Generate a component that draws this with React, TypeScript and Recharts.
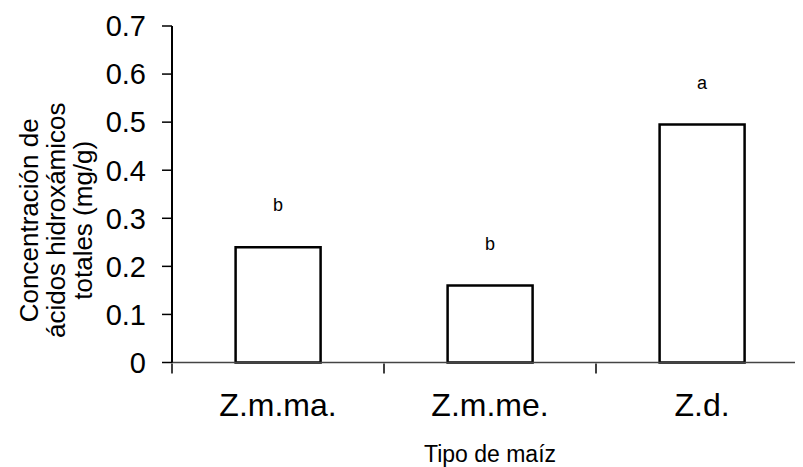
import React from 'react';
import { BarChart, Bar, XAxis, YAxis, LabelList } from 'recharts';

const categories = ['Z.m.ma.', 'Z.m.me.', 'Z.d.'];
const concentrations = [0.24, 0.16, 0.495];
const letters = ['b', 'b', 'a'];
const yTicks = [0, 0.1, 0.2, 0.3, 0.4, 0.5, 0.6, 0.7];
const categoryLimits = [0, 1, 2, 3];
const yTitleLines = ['Concentración de', 'ácidos hidroxámicos', 'totales (mg/g)'];
const xTitle = 'Tipo de maíz';

const data = categories.map((tipo, i) => ({
  tipo,
  valor: concentrations[i],
  letra: letters[i],
  limite: i,
}));

const FONT = '"Liberation Sans", Arial, sans-serif';

function YTitle(props: any) {
  const vb = props.viewBox || { x: 0, y: 0, height: 0 };
  const cy = vb.y + vb.height / 2 + 26;
  return (
    <g>
      {yTitleLines.map((line, i) => {
        const x = 30 + i * 27;
        return (
          <text
            key={line}
            x={x}
            y={cy}
            transform={`rotate(-90 ${x} ${cy})`}
            textAnchor="middle"
            fontFamily={FONT}
            fontSize={26}
            fill="#000"
          >
            {line}
          </text>
        );
      })}
    </g>
  );
}

function XTitle(props: any) {
  const vb = props.viewBox || { x: 0, y: 0, width: 0 };
  return (
    <text
      x={vb.x + vb.width / 2}
      y={vb.y + 99.5}
      textAnchor="middle"
      fontFamily={FONT}
      fontSize={23}
      fill="#000"
    >
      {xTitle}
    </text>
  );
}

export default function App() {
  return (
    <div style={{ width: 795, height: 459, overflow: 'hidden' }}>
      <BarChart
        width={800}
        height={459}
        data={data}
        margin={{ top: 18, right: 0, bottom: 44.5, left: 0 }}
        barCategoryGap="30%"
      >
        <XAxis
          xAxisId="limits"
          dataKey="limite"
          type="number"
          domain={[0, 3]}
          allowDataOverflow
          ticks={categoryLimits}
          interval={0}
          height={59}
          axisLine={false}
          tick={() => <g />}
          tickSize={10}
          tickLine={{ stroke: '#000', strokeWidth: 1.5 }}
        />
        <XAxis
          dataKey="tipo"
          height={1}
          axisLine={{ stroke: '#444', strokeWidth: 1.5 }}
          tickLine={false}
          tickSize={10}
          tickMargin={21}
          tick={{ fill: '#000', fontSize: 32, fontFamily: FONT }}
          label={<XTitle />}
        />
        <YAxis
          width={164}
          domain={[0, 0.7]}
          ticks={yTicks}
          interval={0}
          axisLine={{ stroke: '#000', strokeWidth: 2 }}
          tickLine={{ stroke: '#000', strokeWidth: 1.5 }}
          tickSize={10}
          tickMargin={16}
          tick={{ fill: '#000', fontSize: 29, fontFamily: FONT }}
          label={<YTitle />}
        />
        <Bar
          dataKey="valor"
          fill="#fff"
          stroke="#000"
          strokeWidth={2.5}
          isAnimationActive={false}
        >
          <LabelList
            dataKey="letra"
            position="top"
            offset={36}
            fontSize={18}
            fontFamily={FONT}
            fill="#000"
          />
        </Bar>
      </BarChart>
    </div>
  );
}
